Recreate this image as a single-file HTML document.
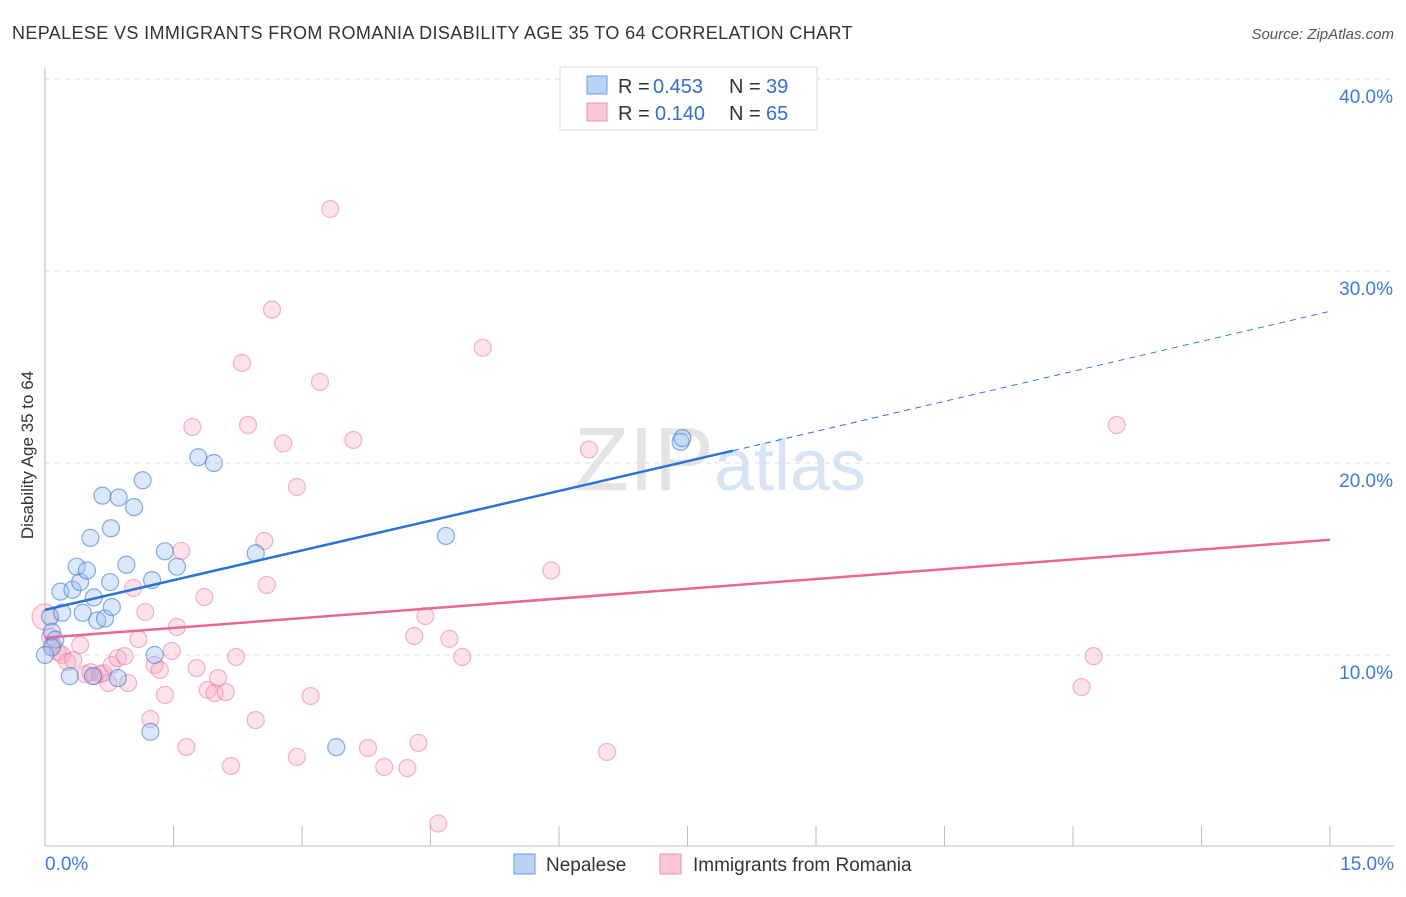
<!DOCTYPE html>
<html><head><meta charset="utf-8"><style>
body{margin:0;background:#fff;font-family:"Liberation Sans",sans-serif}
svg text{font-family:"Liberation Sans",sans-serif}
</style></head><body>
<svg id="chart" width="1406" height="892" viewBox="0 0 1406 892">
<text x="12" y="39" font-size="18" letter-spacing="0.4" fill="#333" textLength="841" lengthAdjust="spacing">NEPALESE VS IMMIGRANTS FROM ROMANIA DISABILITY AGE 35 TO 64 CORRELATION CHART</text>
<text x="1394" y="39" font-size="15" fill="#555" font-style="italic" text-anchor="end">Source: ZipAtlas.com</text>
<text x="720" y="490" font-size="90" fill="#e4e4e4" text-anchor="middle" font-family="Liberation Serif">ZIP<tspan fill="#d6e4f5" font-family="Liberation Sans" font-size="72">atlas</tspan></text>
<text transform="translate(33,455) rotate(-90)" font-size="17" fill="#333" text-anchor="middle">Disability Age 35 to 64</text>
<g id="grid"></g><g id="axes"></g><g id="pts"></g><g id="lines"></g>
<g>
<rect x="560" y="67" width="257" height="63" fill="#fff" stroke="#ddd"/>
<rect x="587" y="76" width="20" height="18" fill="#b8d3f5" stroke="#6a9fe0"/>
<rect x="587" y="103" width="20" height="18" fill="#f9c7d6" stroke="#ef93b0"/>
<text x="618" y="93" font-size="20" fill="#333">R =</text>
<text x="653" y="93" font-size="20" fill="#2f6fd1">0.453</text>
<text x="729" y="93" font-size="20" fill="#333">N =</text>
<text x="766" y="93" font-size="20" fill="#2f6fd1">39</text>
<text x="618" y="120" font-size="20" fill="#333">R =</text>
<text x="655" y="120" font-size="20" fill="#2f6fd1">0.140</text>
<text x="729" y="120" font-size="20" fill="#333">N =</text>
<text x="766" y="120" font-size="20" fill="#2f6fd1">65</text>
</g>
<g>
<rect x="514" y="854" width="21" height="20" fill="#b8d3f5" stroke="#6a9fe0"/>
<text x="546" y="871" font-size="19" fill="#333">Nepalese</text>
<rect x="660" y="854" width="21" height="20" fill="#f9c7d6" stroke="#ef93b0"/>
<text x="693" y="871" font-size="19" fill="#333">Immigrants from Romania</text>
</g>
</svg>
<script>
const xTicks=[0,1.5,3,4.5,6,7.5,9,10.5,12,13.5,15];
const yTicks=[10,20,30,40];
const blueX=[0.06,0.08,0.12,0.08,0.18,0.20,0.29,0.32,0.37,0.41,0.44,0.49,0.53,0.57,0.61,0.56,0.67,0.70,0.76,0.77,0.78,0.86,0.85,0.95,1.04,1.14,1.25,1.28,1.23,1.40,1.54,1.79,1.97,2.46,3.40,4.68,7.42,7.44,0.0];
const blueY=[12.0,11.2,10.8,10.4,13.3,12.2,8.9,13.4,14.6,13.8,12.2,14.4,16.1,13.0,11.8,8.9,18.3,11.9,13.8,16.6,12.5,18.2,8.8,14.7,17.7,19.1,13.9,10.0,6.0,15.4,14.6,20.3,20.0,15.3,5.2,16.2,21.1,21.3,10.0];
const pinkX=[0.0,0.06,0.09,0.15,0.20,0.26,0.33,0.41,0.47,0.53,0.58,0.64,0.68,0.74,0.78,0.85,0.93,0.97,1.03,1.09,1.17,1.23,1.28,1.34,1.40,1.48,1.54,1.59,1.65,1.72,1.77,1.86,1.90,1.98,2.02,2.11,2.17,2.23,2.30,2.37,2.46,2.59,2.56,2.65,2.78,2.94,2.94,3.10,3.21,3.33,3.60,3.77,3.96,4.23,4.31,4.36,4.44,4.59,4.72,4.87,5.11,5.91,6.35,6.56,12.10,12.24,12.51];
const pinkY=[11.98,10.94,10.52,10.16,10.0,9.64,9.74,10.52,9.0,9.1,8.9,9.0,9.06,8.54,9.48,9.84,9.94,8.54,13.49,10.83,12.24,6.67,9.48,9.22,7.92,10.21,11.46,15.42,5.21,21.88,9.32,13.02,8.18,8.02,8.80,8.07,4.22,9.90,25.21,21.98,6.61,13.65,15.94,27.99,21.02,4.69,18.75,7.86,24.22,33.23,21.2,5.16,4.17,4.11,10.99,5.42,12.03,1.22,10.84,9.9,26.0,14.4,20.7,4.95,8.33,9.94,21.98];
const blueLine=[0,12.35,8.03,20.64],blueDash=[8.03,20.64,15,27.9];
const pinkLine=[0,10.9,15,16.0];
const X=v=>45+v*85.667, Y=v=>847-v*19.2;
const NS='http://www.w3.org/2000/svg';
function mk(p,t,a){const e=document.createElementNS(NS,t);for(const k in a)e.setAttribute(k,a[k]);document.getElementById(p).appendChild(e);return e;}
yTicks.forEach(t=>{
 const l=mk('grid','line',{x1:45,x2:1394,y1:Y(t),y2:Y(t),stroke:'#ddd','stroke-dasharray':'5,5'});
 
 
 const tx=mk('grid','text',{x:1393,y:Y(t)+24,'font-size':19,fill:'#3d7bd6','text-anchor':'end'});tx.textContent=t.toFixed(1)+'%';
 
 
});
mk('axes','line',{x1:45,x2:45,y1:68,y2:846,stroke:'#bbb'});
mk('axes','line',{x1:45,x2:1394,y1:846,y2:846,stroke:'#bbb'});
xTicks.forEach(t=>{const l=mk('axes','line',{x1:X(t),x2:X(t),y1:826,y2:846,stroke:'#bbb'});
 
 });
[[0,'0.0%','start',45],[15,'15.0%','end',1394]].forEach(d=>{const tx=mk('axes','text',{x:d[3],y:870,'font-size':19,fill:'#3d7bd6','text-anchor':d[2]});tx.textContent=d[1];
 
 });
pinkX.forEach((v,i)=>{const c=mk('pts','circle',{cx:X(v),cy:Y(pinkY[i]),r:i==0?13:8.5,fill:'rgba(246,160,188,0.3)',stroke:'rgba(236,120,160,0.55)','stroke-width':1.2});
 
 });
blueX.forEach((v,i)=>{const c=mk('pts','circle',{cx:X(v),cy:Y(blueY[i]),r:8.5,fill:'rgba(150,190,240,0.35)',stroke:'rgba(60,120,210,0.6)','stroke-width':1.2});
 
 });
let l=mk('lines','line',{x1:X(blueLine[0]),y1:Y(blueLine[1]),x2:X(blueLine[2]),y2:Y(blueLine[3]),stroke:'#2a72d6','stroke-width':2.5});


l=mk('lines','line',{x1:X(blueDash[0]),y1:Y(blueDash[1]),x2:X(blueDash[2]),y2:Y(blueDash[3]),stroke:'#2a72d6','stroke-width':1,'stroke-dasharray':'6,5'});


l=mk('lines','line',{x1:X(pinkLine[0]),y1:Y(pinkLine[1]),x2:X(pinkLine[2]),y2:Y(pinkLine[3]),stroke:'#e8679a','stroke-width':2.5});


</script>
</body></html>
